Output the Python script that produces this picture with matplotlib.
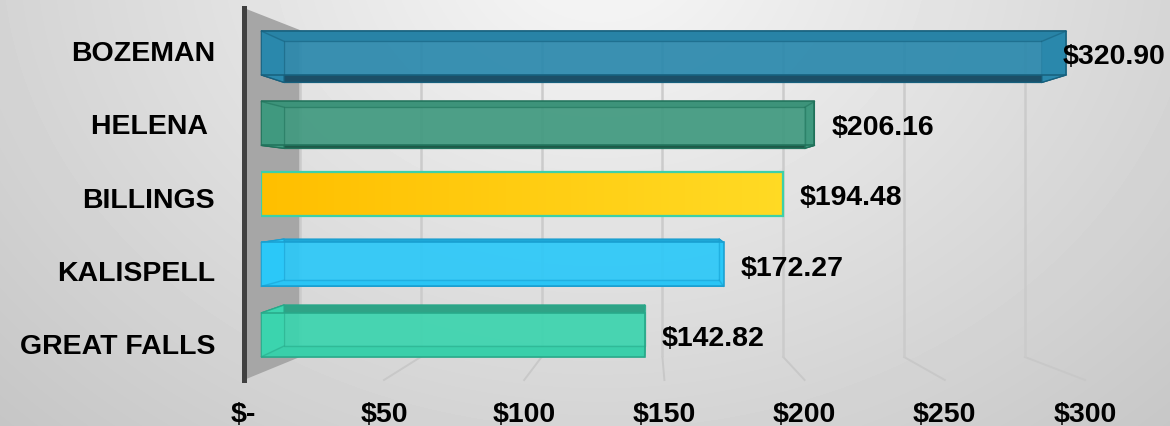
"""Average cost by city, Excel-style 3D horizontal bars."""
import matplotlib.pyplot as plt
import numpy as np
from matplotlib.patches import Polygon
from matplotlib.lines import Line2D
from matplotlib.transforms import ScaledTranslation

cities = ["BOZEMAN", "HELENA ", "BILLINGS", "KALISPELL", "GREAT FALLS"]
costs = [320.90, 206.16, 194.48, 172.27, 142.82]
tick_values = [0, 50, 100, 150, 200, 250, 300]
tick_labels = ["$-", "$50", "$100", "$150", "$200", "$250", "$300"]
x_max = 300

# style per bar: face, dark face (top/bottom), edge, flat?
face_colors = ["#2a88ac", "#40997f", "#ffcc10", "#2bc8f8", "#3bd4ae"]
dark_colors = ["#1c4f67", "#1e5a48", "#e0a800", "#1fa8d8", "#2fa386"]
edge_colors = ["#17607d", "#20715a", "#3dd0a8", "#1a9fd0", "#28a889"]
flat_bar = [False, False, True, False, False]

W, H = 1170, 426
plt.rcParams["font.family"] = ["Liberation Sans", "DejaVu Sans"]
fig = plt.figure(figsize=(W / 100, H / 100), dpi=100)

# background: soft radial grey
bg = fig.add_axes([0, 0, 1, 1], zorder=-10)
bg.axis("off")
yy, xx = np.mgrid[0:H, 0:W]
dist = np.hypot((xx - 600) / 650, (yy + 50) / 520)
bg.imshow(np.clip(0.97 - 0.15 * dist, 0, 1), cmap="gray", vmin=0, vmax=1,
          aspect="auto", interpolation="bilinear")

# perspective: each depth plane is an axes scaled about a vanishing point
VPX, VPY = 650, 190
FL, FR, FT, FB = 243.8, 1085, 8, 380
ROW0, ROW_STEP = 47.3, 73.4
y_top = (FT - ROW0) / ROW_STEP
y_bot = (FB - ROW0) / ROW_STEP
BAR_H = 0.624


def plane(kx, ky, z):
    l = VPX + (FL - VPX) * kx
    r = VPX + (FR - VPX) * kx
    t = VPY + (FT - VPY) * ky
    b = VPY + (FB - VPY) * ky
    ax = fig.add_axes([l / W, 1 - b / H, (r - l) / W, (b - t) / H], zorder=z)
    ax.set_xlim(0, x_max)
    ax.set_ylim(y_bot, y_top)
    ax.patch.set_visible(False)
    for s in ax.spines.values():
        s.set_visible(False)
    ax.set_xticks([])
    ax.set_yticks([])
    return ax


ax_wall = plane(0.862, 0.879, 1)
ax_front = plane(1.0, 1.0, 2)
ax_b = plane(0.957, 0.96, 4)
ax_a = plane(0.901, 0.898, 5)

to_fig = fig.transFigure.inverted()


def pt(ax, x, y):
    return to_fig.transform(ax.transData.transform((x, y)))


def fig_poly(pts, **kw):
    fig.add_artist(Polygon(np.array(pts), closed=True, transform=fig.transFigure, **kw))


# back wall + grid
fig_poly([pt(ax_front, 0, y_top), pt(ax_wall, 0, y_top),
          pt(ax_wall, 0, y_bot), pt(ax_front, 0, y_bot)],
         facecolor="#a6a6a6", edgecolor="none", zorder=0.5)
ax_wall.vlines(tick_values, y_bot, y_top, color="#cbcbcb", lw=1.8, clip_on=False)
for t in tick_values[1:]:
    a, b = pt(ax_wall, t, y_bot), pt(ax_front, t, y_bot)
    fig.add_artist(Line2D([a[0], b[0]], [a[1], b[1]], transform=fig.transFigure,
                          color="#c8c8c8", lw=1.4, zorder=1))
ax_front.axvline(0, color="#404040", lw=3.6, clip_on=False)

# axis labels on the front plane
ax_front.set_xticks(tick_values, tick_labels)
ax_front.set_yticks(range(len(cities)), cities)
ax_front.tick_params(axis="x", length=0, pad=16, labelsize=20.5)
ax_front.tick_params(axis="y", length=0, pad=20.7, labelsize=20.5)
shift = ScaledTranslation(0, -3.5 / 100, fig.dpi_scale_trans)
for lbl in ax_front.get_xticklabels():
    lbl.set_fontweight("bold")
for lbl in ax_front.get_yticklabels():
    lbl.set_fontweight("bold")
    lbl.set_transform(lbl.get_transform() + shift)

# bars
for i, v in enumerate(costs):
    w = min(v, x_max)
    y0, y1 = i - BAR_H / 2, i + BAR_H / 2
    if flat_bar[i]:
        bar = ax_b.barh(i, w, height=BAR_H, facecolor="none",
                        edgecolor=edge_colors[i], lw=1.6, zorder=3)[0]
        grad = np.linspace(np.array([1.0, 0.75, 0.0]), np.array([1.0, 0.855, 0.14]), 64)[None, :, :]
        im = ax_b.imshow(grad, extent=[0, w, y1, y0], aspect="auto", zorder=2)
        im.set_clip_path(bar)
    else:
        faces = {
            "top": [(0, y0), (w, y0)],
            "bottom": [(0, y1), (w, y1)],
            "left": [(0, y0), (0, y1)],
            "right": [(w, y0), (w, y1)],
        }
        for name, ((xa, ya), (xb, yb)) in faces.items():
            col = dark_colors[i] if name in ("top", "bottom") else face_colors[i]
            fig_poly([pt(ax_b, xa, ya), pt(ax_b, xb, yb), pt(ax_a, xb, yb), pt(ax_a, xa, ya)],
                     facecolor=col, edgecolor=edge_colors[i], lw=0.8, zorder=3)
        ax_b.barh(i, w, height=BAR_H, color=face_colors[i], alpha=0.92,
                  edgecolor=edge_colors[i], lw=1.2)
        ax_a.barh(i, w, height=BAR_H, fill=False, edgecolor=edge_colors[i],
                  lw=1.0, alpha=0.55)
        for cx, cy in [(0, y0), (w, y0), (0, y1), (w, y1)]:
            a, b = pt(ax_b, cx, cy), pt(ax_a, cx, cy)
            fig.add_artist(Line2D([a[0], b[0]], [a[1], b[1]], transform=fig.transFigure,
                                  color=edge_colors[i], lw=1.0, alpha=0.55, zorder=5))

    off = 12 if v <= x_max else -3
    ax_b.annotate(f"${v:.2f}", (w, i), xytext=(off, -3), textcoords="offset points",
                  ha="left", va="center", fontsize=20.5, fontweight="bold",
                  annotation_clip=False, zorder=6)

fig.savefig("out.png", dpi=100)
plt.close(fig)
